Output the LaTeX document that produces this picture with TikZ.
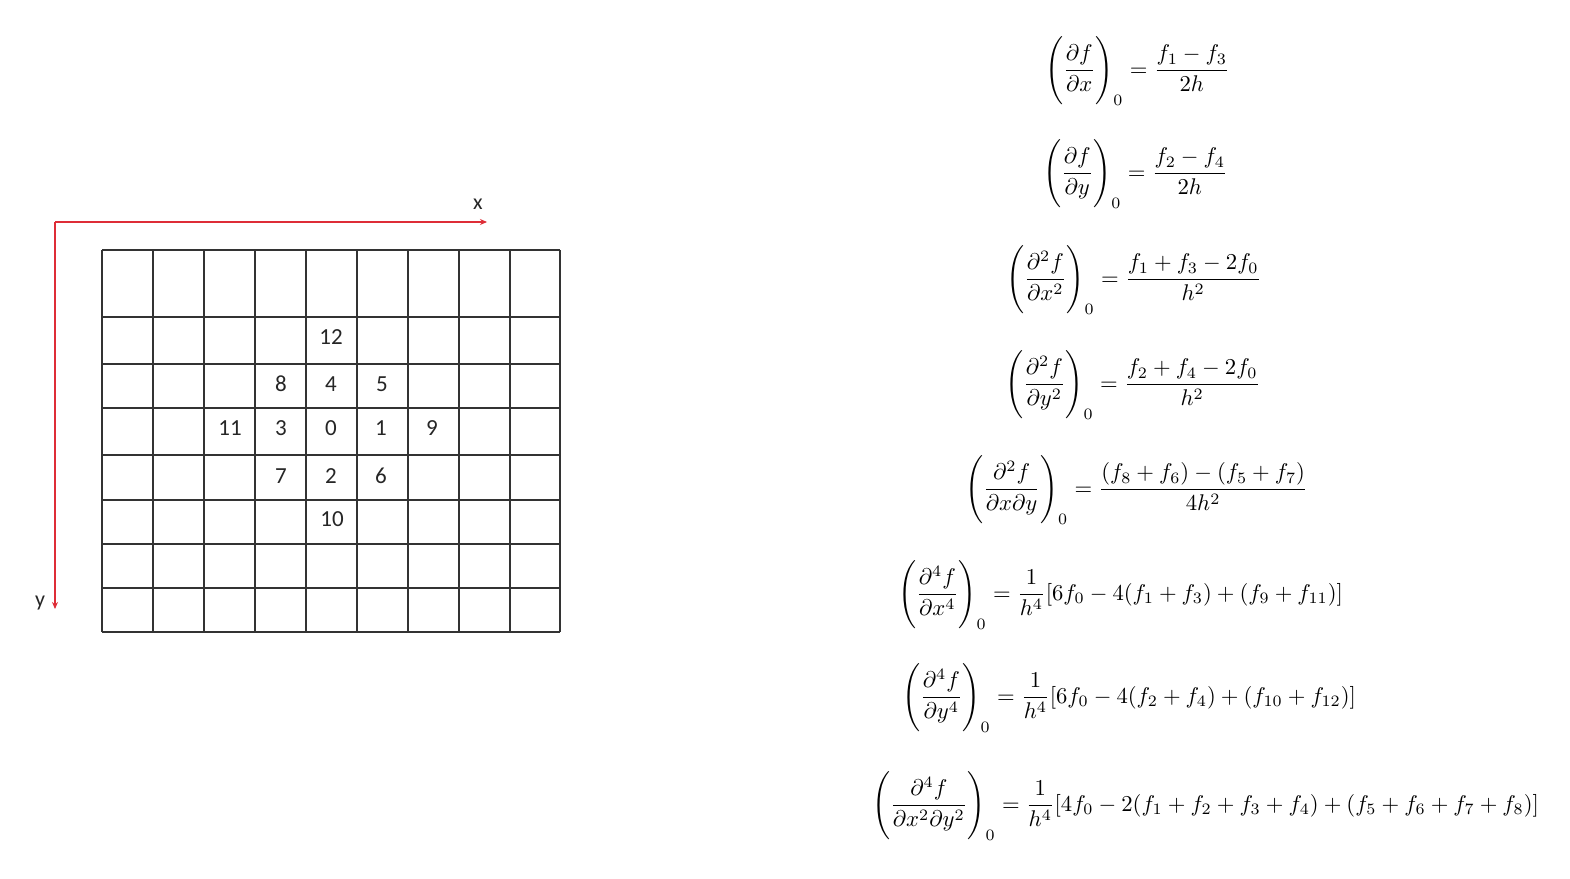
\documentclass[tikz,border=0pt]{standalone}
\usepackage{amsmath}
\usepackage{graphicx}
\usepackage{fontspec}
\usetikzlibrary{arrows.meta}
\newfontfamily\gridfont{Carlito}
\definecolor{axisred}{RGB}{222,45,55}
\newcommand{\eqscale}[1]{\scalebox{2.27}{$\displaystyle #1$}}
\newcommand{\lp}{\Biggl(}
\newcommand{\rp}{\Biggr)}
\begin{document}
\begin{tikzpicture}[x=1pt,y=-1pt,
  gridline/.style={line width=1.4pt, draw=black!80},
  axisline/.style={line width=2pt, draw=axisred, -{Stealth[length=7pt,width=6pt]}},
  num/.style={font=\gridfont\fontsize{23}{26}\selectfont, text=black!85, inner sep=0pt},
  axlabel/.style={font=\gridfont\fontsize{22}{26}\selectfont, text=black!85, inner sep=0pt},
  eq/.style={anchor=base west, inner sep=0pt}]
\useasboundingbox (0,0) rectangle (1570,878);
\fill[white] (0,0) rectangle (1570,878);

% grid
\foreach \gx [count=\i] in {102,153,204,255,306,357,408,459,510,560}{
  \coordinate (ct\i) at (\gx,250);
  \coordinate (cb\i) at (\gx,632);
  \draw[gridline] (ct\i) -- (cb\i);
}
\foreach \gy [count=\j] in {250,317,364,408,455,500,544,588,632}{
  \coordinate (rl\j) at (102,\gy);
  \coordinate (rr\j) at (560,\gy);
  \draw[gridline] (rl\j) -- (rr\j);
}

% axes
\coordinate (O) at (55,222);
\coordinate (X) at (487,222);
\coordinate (Y) at (55,609);
\draw[axisline] (O) -- (X);
\draw[axisline] (O) -- (Y);
\node[axlabel] (xlab) at (478,204) {x};
\node[axlabel] (ylab) at (40,603) {y};

% numbers
\node[num] (n12) at (331,337) {12};
\node[num] (n8)  at (281,384) {8};
\node[num] (n4)  at (331,384) {4};
\node[num] (n5)  at (382,384) {5};
\node[num] (n11) at (230,428) {11};
\node[num] (n3)  at (281,428) {3};
\node[num] (n0)  at (331,428) {0};
\node[num] (n1)  at (381,428) {1};
\node[num] (n9)  at (432,428) {9};
\node[num] (n7)  at (281,476) {7};
\node[num] (n2)  at (331,476) {2};
\node[num] (n6)  at (381,476) {6};
\node[num] (n10) at (332,519) {10};

% equations
\node[eq] (e1) at (1045,76) {\eqscale{\lp\frac{\partial f}{\partial x}\rp_{0} = \frac{f_1 - f_3}{2h}}};
\node[eq] (e2) at (1043,179) {\eqscale{\lp\frac{\partial f}{\partial y}\rp_{0} = \frac{f_2 - f_4}{2h}}};
\node[eq] (e3) at (1006,285) {\eqscale{\lp\frac{\partial^2 f}{\partial x^2}\rp_{0} = \frac{f_1 + f_3 - 2f_0}{h^2}}};
\node[eq] (e4) at (1005,390) {\eqscale{\lp\frac{\partial^2 f}{\partial y^2}\rp_{0} = \frac{f_2 + f_4 - 2f_0}{h^2}}};
\node[eq] (e5) at (965,495) {\eqscale{\lp\frac{\partial^2 f}{\partial x\partial y}\rp_{0} = \frac{(f_8 + f_6) - (f_5 + f_7)}{4h^2}}};
\node[eq] (e6) at (898,600) {\eqscale{\lp\frac{\partial^4 f}{\partial x^4}\rp_{0} = \frac{1}{h^4}[6f_0 - 4(f_1 + f_3) + (f_9 + f_{11})]}};
\node[eq] (e7) at (902,703) {\eqscale{\lp\frac{\partial^4 f}{\partial y^4}\rp_{0} = \frac{1}{h^4}[6f_0 - 4(f_2 + f_4) + (f_{10} + f_{12})]}};
\node[eq] (e8) at (872,811) {\eqscale{\lp\frac{\partial^4 f}{\partial x^2\partial y^2}\rp_{0} = \frac{1}{h^4}[4f_0 - 2(f_1 + f_2 + f_3 + f_4) + (f_5 + f_6 + f_7 + f_8)]}};
\end{tikzpicture}
\end{document}
